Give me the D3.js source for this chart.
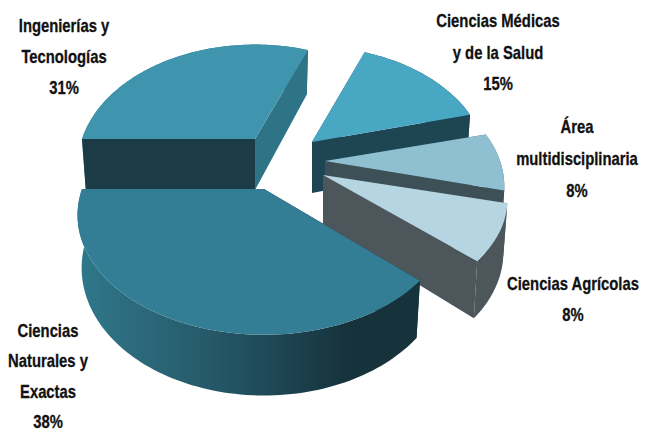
<!DOCTYPE html>
<html><head><meta charset="utf-8">
<script src="https://cdn.jsdelivr.net/npm/d3@7/dist/d3.min.js"></script>
<style>html,body{margin:0;padding:0;background:#fff}svg{display:block}
text{font-family:"Liberation Sans",sans-serif;font-weight:700;fill:#111;stroke:#111;stroke-width:0.3;text-anchor:middle}</style>
</head><body><svg id="c" width="658" height="432"></svg>
<script>
// data
const categories = ["Ingenierías y Tecnologías","Ciencias Médicas y de la Salud","Área multidisciplinaria","Ciencias Agrícolas","Ciencias Naturales y Exactas"];
const values = [31,15,8,8,38];
const labelLines = [["Ingenierías y","Tecnologías","31%"],["Ciencias Médicas","y de la Salud","15%"],["Área","multidisciplinaria","8%"],["Ciencias Agrícolas","8%"],["Ciencias","Naturales y","Exactas","38%"]];
// style / layout
const topColors = ["#4095ae","#48a8c4","#8fc0d2","#b6d5e2","#337e95"];
const endWall = ["#2f7386","#1e4552","#3d4f57","#4c565b","#16323b"];
const startWall = ["#1b3c47","#1e4552","#3d4f57","#4c565b","#16323b"];
const outerWall = ["#2f7386","#1e4552","#3d4f57","#4c565b","url(#wallGrad)"];
const origins = [[255,139],[312,142],[325,161],[323,175],[264,189]];
const radiiX = [173,172,175,180,182];
const radiiY = [115,116,112,107,114];
const labelX = [64,498,577,573,48];
const labelY = [32,27,133,290,337];
const labelStep = [31,31.5,32,31,30.3];
const k = 0.218, kDepth = 0.16, depth = 51, taper = 0.978;
const fontSize = 18.5, narrow = 0.8;

const svg = d3.select("#c");
const grad = svg.append("defs").append("linearGradient").attr("id","wallGrad")
  .attr("gradientUnits","userSpaceOnUse").attr("x1",85).attr("x2",350).attr("y1",0).attr("y2",0);
[[0,"#2f7689"],[0.45,"#265a6a"],[0.8,"#1b414d"],[1,"#16323b"]].forEach(s=>grad.append("stop").attr("offset",s[0]).attr("stop-color",s[1]));

const pie = d3.pie().sort(null).startAngle(-Math.PI/2).endAngle(1.5*Math.PI);
const arcs = pie(values);
const line = d3.line();
function proj(i,a,bottom){
  const u=Math.sin(a),v=Math.cos(a),p=1/(1+k*v),o=origins[i];
  const x=radiiX[i]*u*p, y=-radiiY[i]*v*p;
  return bottom ? [o[0]+x*taper, o[1]+y+depth/(1+kDepth*v)] : [o[0]+x, o[1]+y];
}
function apex(i,bottom){const o=origins[i];return bottom?[o[0],o[1]+depth]:[o[0],o[1]];}
function arcPts(i,d,bottom){
  const n=Math.max(8,Math.ceil((d.endAngle-d.startAngle)*40));
  return d3.range(n+1).map(j=>proj(i,d.startAngle+(d.endAngle-d.startAngle)*j/n,bottom));
}
const g = svg.append("g");
arcs.forEach((d,i)=>{
  const sl=g.append("g").attr("class","slice").attr("data-name",categories[i]);
  const poly=(pts,fill)=>sl.append("path").attr("d",line(pts)+"Z").attr("fill",fill);
  poly([...arcPts(i,d),...arcPts(i,d,true).reverse()],outerWall[i]);
  poly([apex(i),proj(i,d.startAngle),proj(i,d.startAngle,true),apex(i,true)],startWall[i]);
  poly([apex(i),proj(i,d.endAngle),proj(i,d.endAngle,true),apex(i,true)],endWall[i]);
  poly([apex(i),...arcPts(i,d)],topColors[i]);
});
labelLines.forEach((ls,i)=>{
  ls.forEach((s,j)=>svg.append("text").attr("font-size",fontSize)
    .attr("transform",`translate(${labelX[i]},${labelY[i]+j*labelStep[i]}) scale(${narrow},1)`).text(s));
});
</script></body></html>
